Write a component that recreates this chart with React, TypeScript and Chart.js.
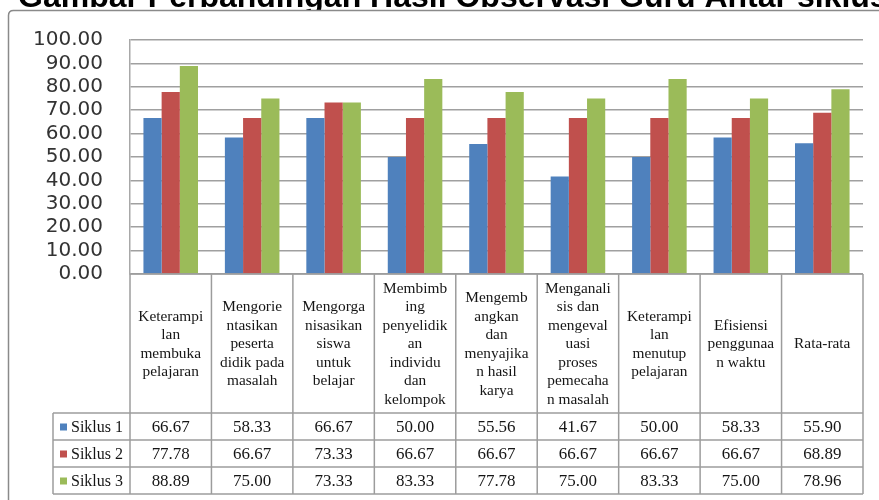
import React, { useEffect, useRef } from "react";
import { Chart, registerables } from "chart.js";

Chart.register(...registerables);

const TITLE = "Gambar Perbandingan Hasil Observasi Guru Antar siklus";

const categories: string[][] = [
  ["Keterampi", "lan", "membuka", "pelajaran"],
  ["Mengorie", "ntasikan", "peserta", "didik pada", "masalah"],
  ["Mengorga", "nisasikan", "siswa", "untuk", "belajar"],
  ["Membimb", "ing", "penyelidik", "an", "individu", "dan", "kelompok"],
  ["Mengemb", "angkan", "dan", "menyajika", "n hasil", "karya"],
  ["Menganali", "sis dan", "mengeval", "uasi", "proses", "pemecaha", "n masalah"],
  ["Keterampi", "lan", "menutup", "pelajaran"],
  ["Efisiensi", "penggunaa", "n waktu"],
  ["Rata-rata"],
];

const seriesNames = ["Siklus 1", "Siklus 2", "Siklus 3"];
const siklus1 = [66.67, 58.33, 66.67, 50.0, 55.56, 41.67, 50.0, 58.33, 55.9];
const siklus2 = [77.78, 66.67, 73.33, 66.67, 66.67, 66.67, 66.67, 66.67, 68.89];
const siklus3 = [88.89, 75.0, 73.33, 83.33, 77.78, 75.0, 83.33, 75.0, 78.96];
const seriesColors = ["#4F81BD", "#C0504D", "#9BBB59"];

const yMin = 0;
const yMax = 100;
const yStep = 10;

const allSeries = [siklus1, siklus2, siklus3];

const SERIF = '"Liberation Serif", "Times New Roman", serif';

function line(ctx: CanvasRenderingContext2D, x1: number, y1: number, x2: number, y2: number) {
  ctx.beginPath();
  ctx.moveTo(x1, y1);
  ctx.lineTo(x2, y2);
  ctx.stroke();
}

const framePlugin = {
  id: "frameAndTable",
  beforeDraw(chart: any) {
    const ctx: CanvasRenderingContext2D = chart.ctx;
    ctx.save();
    // partially hidden title
    ctx.fillStyle = "#000";
    ctx.font = 'bold 32px "Liberation Sans", Arial, sans-serif';
    ctx.textAlign = "left";
    ctx.textBaseline = "alphabetic";
    ctx.fillText(TITLE, 18, 6.5);
    // chart frame (white, covers the lower part of the title)
    const x0 = 8.5, y0 = 10.5, x1 = 920, y1 = 540, r = 5;
    ctx.beginPath();
    ctx.moveTo(x0 + r, y0);
    ctx.lineTo(x1 - r, y0);
    ctx.quadraticCurveTo(x1, y0, x1, y0 + r);
    ctx.lineTo(x1, y1 - r);
    ctx.quadraticCurveTo(x1, y1, x1 - r, y1);
    ctx.lineTo(x0 + r, y1);
    ctx.quadraticCurveTo(x0, y1, x0, y1 - r);
    ctx.lineTo(x0, y0 + r);
    ctx.quadraticCurveTo(x0, y0, x0 + r, y0);
    ctx.closePath();
    ctx.fillStyle = "#ffffff";
    ctx.fill();
    ctx.strokeStyle = "#8a8a8a";
    ctx.lineWidth = 1.5;
    ctx.stroke();
    ctx.restore();
  },
  afterDraw(chart: any) {
    const ctx: CanvasRenderingContext2D = chart.ctx;
    const area = chart.chartArea;
    const xs = chart.scales.x;
    const n = categories.length;
    const colW = (area.right - area.left) / n;
    const top = area.bottom;
    const headerBottom = 413;
    const rowH = 27;
    const legendLeft = 53;
    const tableBottom = headerBottom + rowH * seriesNames.length;

    ctx.save();
    ctx.strokeStyle = "#9c9c9c";
    ctx.lineWidth = 1.5;
    line(ctx, area.left, top, area.right, top);
    for (let r = 0; r <= seriesNames.length; r++) {
      const y = headerBottom + r * rowH;
      line(ctx, legendLeft, y, area.right, y);
    }
    for (let i = 0; i <= n; i++) {
      const x = area.left + i * colW;
      line(ctx, x, top, x, tableBottom);
    }
    line(ctx, legendLeft, headerBottom, legendLeft, tableBottom);

    // header labels
    ctx.fillStyle = "#151515";
    ctx.font = "14.5px " + SERIF;
    ctx.textAlign = "center";
    ctx.textBaseline = "middle";
    const lh = 18.5;
    const hc = (top + headerBottom) / 2 + 1;
    categories.forEach((lines, i) => {
      const cx = xs.getPixelForValue(i);
      const startY = hc - ((lines.length - 1) * lh) / 2;
      lines.forEach((t, k) => {
        ctx.save();
        ctx.translate(cx, startY + k * lh);
        ctx.scale(1.06, 1);
        ctx.fillText(t, 0, 0);
        ctx.restore();
      });
    });

    // value rows
    ctx.font = "16px " + SERIF;
    allSeries.forEach((vals, r) => {
      const cy = headerBottom + r * rowH + rowH / 2 + 1;
      vals.forEach((v, i) => {
        const cx = xs.getPixelForValue(i);
        ctx.fillStyle = "#151515";
        ctx.textAlign = "center";
        ctx.save();
        ctx.translate(cx, cy);
        ctx.scale(1.06, 1);
        ctx.fillText(v.toFixed(2), 0, 0);
        ctx.restore();
      });
      // legend cell
      ctx.fillStyle = seriesColors[r];
      ctx.fillRect(60, cy - 4, 7, 7);
      ctx.fillStyle = "#151515";
      ctx.textAlign = "left";
      ctx.fillText(seriesNames[r], 71, cy);
    });
    ctx.restore();
  },
};

export default function App() {
  const ref = useRef<HTMLCanvasElement | null>(null);
  useEffect(() => {
    if (!ref.current) return;
    const chart = new Chart(ref.current, {
      type: "bar",
      data: {
        labels: categories,
        datasets: allSeries.map((vals, i) => ({
          label: seriesNames[i],
          data: vals,
          backgroundColor: seriesColors[i],
          borderWidth: 0,
          categoryPercentage: 0.67,
          barPercentage: 1,
        })),
      },
      options: {
        animation: false,
        responsive: false,
        maintainAspectRatio: false,
        layout: { padding: { left: 0, top: 40, right: 16, bottom: 226 } },
        plugins: {
          legend: { display: false },
          title: { display: false },
          tooltip: { enabled: false },
        },
        scales: {
          x: { display: false },
          y: {
            min: yMin,
            max: yMax,
            afterFit: (s: any) => {
              s.width = 130;
            },
            ticks: {
              stepSize: yStep,
              autoSkip: false,
              padding: 27,
              color: "#333333",
              font: { family: '"DejaVu Sans", sans-serif', size: 20 },
              callback: (v: any) => Number(v).toFixed(2),
            },
            grid: { color: "#a0a0a0", lineWidth: 1.5, drawTicks: false },
            border: { display: true, color: "#a8a8a8", width: 1.5 },
          },
        },
      },
      plugins: [framePlugin],
    });
    return () => chart.destroy();
  }, []);
  return (
    <div style={{ position: "absolute", left: 0, top: 0, width: 879, height: 500 }}>
      <canvas ref={ref} width={879} height={500} style={{ width: 879, height: 500, display: "block" }} />
    </div>
  );
}
